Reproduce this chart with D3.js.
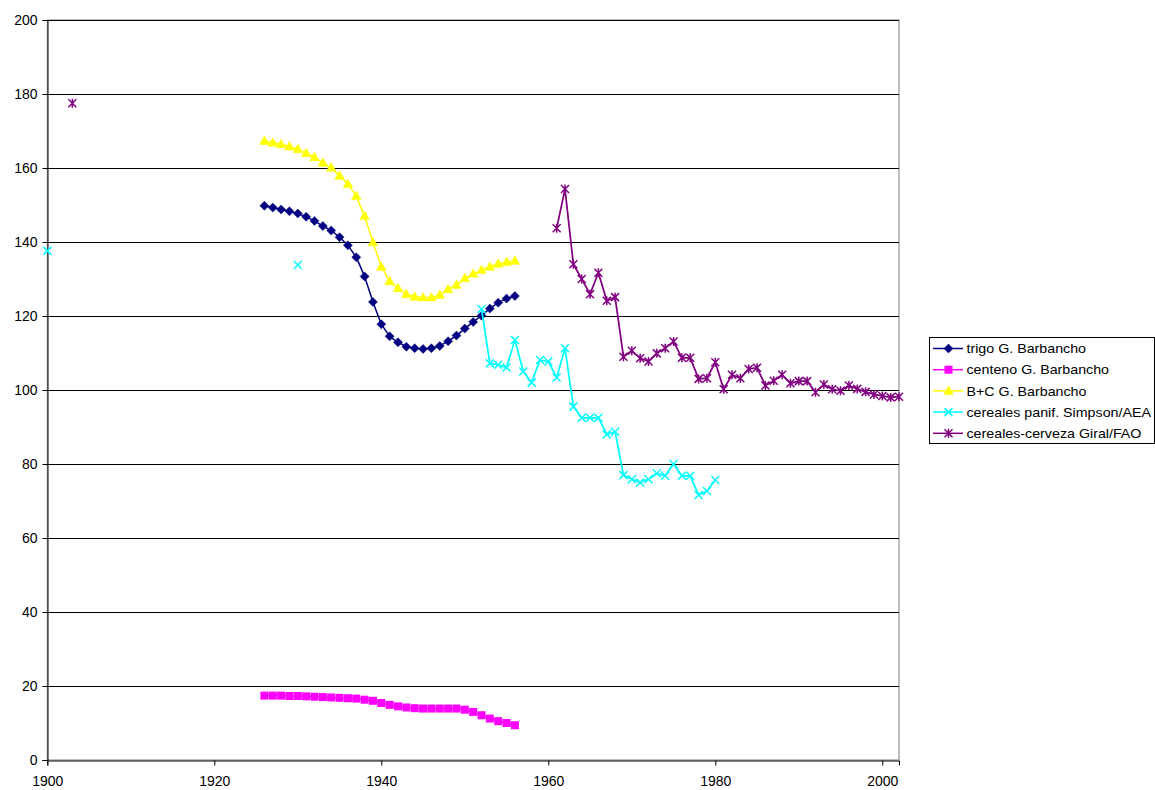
<!DOCTYPE html>
<html>
<head>
<meta charset="utf-8">
<script src="https://cdn.jsdelivr.net/npm/d3@7"></script>
<style>
  html, body { margin: 0; padding: 0; background: #fff; }
  svg { display: block; font-family: "Liberation Sans", Arial, sans-serif; }
</style>
</head>
<body>
<svg id="chart" width="1155" height="790"></svg>
<script>
// ---------------- DATA ----------------
const barbYears = [1926,1927,1928,1929,1930,1931,1932,1933,1934,1935,1936,1937,1938,1939,1940,1941,1942,1943,1944,1945,1946,1947,1948,1949,1950,1951,1952,1953,1954,1955,1956];
const trigo   = [149.8,149.3,148.8,148.3,147.7,146.8,145.7,144.3,143.1,141.3,139.1,135.9,130.7,123.8,117.8,114.5,112.9,111.7,111.3,111.1,111.3,111.9,113.2,114.7,116.6,118.4,120.1,122.0,123.6,124.7,125.4];
const centeno = [17.4,17.4,17.4,17.3,17.3,17.2,17.1,17.0,16.9,16.8,16.7,16.6,16.3,16.0,15.4,14.9,14.5,14.2,14.0,13.9,13.9,13.9,13.9,13.9,13.6,13.0,12.1,11.2,10.5,10.0,9.4];
const bc      = [167.3,166.8,166.4,165.8,165.1,164.0,162.9,161.4,160.1,157.9,155.7,152.4,147.0,139.9,133.3,129.4,127.5,125.9,125.2,125.0,125.0,125.7,127.2,128.4,130.2,131.4,132.4,133.3,134.1,134.6,134.9];

// null = gap in the series (line breaks there)
const simpsonYears  = [1900,1901,1930,1931,1952,1953,1954,1955,1956,1957,1958,1959,1960,1961,1962,1963,1964,1965,1966,1967,1968,1969,1970,1971,1972,1973,1974,1975,1976,1977,1978,1979,1980];
const simpsonValues = [137.6,null,133.8,null,121.9,107.2,106.8,106.1,113.5,105.0,102.0,108.1,107.7,103.4,111.3,95.5,92.5,92.5,92.5,88.0,88.7,77.0,75.9,75.0,75.9,77.5,76.8,80.0,76.8,76.8,71.6,72.7,75.7];

const giralYears  = [1903,1904,1961,1962,1963,1964,1965,1966,1967,1968,1969,1970,1971,1972,1973,1974,1975,1976,1977,1978,1979,1980,1981,1982,1983,1984,1985,1986,1987,1988,1989,1990,1991,1992,1993,1994,1995,1996,1997,1998,1999,2000,2001,2002];
const giralValues = [177.5,null,143.7,154.3,134.0,130.0,125.9,131.7,124.1,125.1,109.0,110.6,108.6,107.7,109.9,111.3,113.1,108.7,108.7,103.0,103.2,107.5,100.2,104.1,103.2,105.7,106.0,101.2,102.5,104.1,101.8,102.4,102.4,99.4,101.5,100.2,99.8,101.2,100.3,99.5,98.8,98.4,98.0,98.2];

const seriesNames = ["trigo G. Barbancho","centeno G. Barbancho","B+C G. Barbancho","cereales panif. Simpson/AEA","cereales-cerveza Giral/FAO"];
const yTicks = [0,20,40,60,80,100,120,140,160,180,200];
const xTicks = [1900,1920,1940,1960,1980,2000];

// ---------------- CHART ----------------
const svg = d3.select("#chart");
const pLeft = 47.3, pRight = 899, pTop = 20, pBottom = 760;
const x = d3.scaleLinear().domain([1900, 2002]).range([pLeft, pRight]);
const y = d3.scaleLinear().domain([0, 200]).range([pBottom, pTop]);

// plot border (grey)
svg.append("rect").attr("x", pLeft).attr("y", pTop).attr("width", pRight - pLeft).attr("height", pBottom - pTop)
  .attr("fill", "none").attr("stroke", "#808080").attr("stroke-width", 1);

// gridlines
svg.append("g").selectAll("line").data(yTicks.filter(d => d > 0)).join("line")
  .attr("x1", pLeft).attr("x2", pRight).attr("y1", d => Math.round(y(d)) + 0.5).attr("y2", d => Math.round(y(d)) + 0.5)
  .attr("stroke", "#000").attr("stroke-width", 1);

// axes
const yAxis = svg.append("g").attr("transform", `translate(${Math.round(pLeft) + 0.5},0)`)
  .call(d3.axisLeft(y).tickValues(yTicks).tickSize(5).tickPadding(5).tickFormat(d3.format("d")));
const xAxis = svg.append("g").attr("transform", `translate(0,${pBottom + 0.5})`)
  .call(d3.axisBottom(x).tickValues(xTicks).tickSize(5).tickPadding(11).tickFormat(d3.format("d")));
[yAxis, xAxis].forEach(g => {
  g.select(".domain").attr("stroke", "#000");
  g.selectAll(".tick line").attr("stroke", "#000");
  g.selectAll("text").attr("font-size", 14).attr("fill", "#000").attr("font-family", "'Liberation Sans', Arial, sans-serif");
});

// marker symbols
function drawMarker(g, type, color) {
  if (type === "diamond") {
    g.append("path").attr("d", "M0,-4.5L4.5,0L0,4.5L-4.5,0Z").attr("fill", color).attr("stroke", color).attr("stroke-width", 0.5);
  } else if (type === "square") {
    g.append("rect").attr("x", -4).attr("y", -4).attr("width", 8).attr("height", 8).attr("fill", color);
  } else if (type === "triangle") {
    g.append("path").attr("d", "M0,-5L4.8,3.5L-4.8,3.5Z").attr("fill", color).attr("stroke", color).attr("stroke-width", 0.5);
  } else if (type === "x") {
    g.append("path").attr("d", "M-4,-4L4,4M-4,4L4,-4").attr("stroke", color).attr("stroke-width", 1.5).attr("fill", "none");
  } else if (type === "star") {
    g.append("path").attr("d", "M-4,-4L4,4M-4,4L4,-4M0,-4.5L0,4.5").attr("stroke", color).attr("stroke-width", 1.5).attr("fill", "none");
  }
}

const series = [
  { name: seriesNames[0], years: barbYears, values: trigo, color: "#000080", marker: "diamond", lw: 1.5 },
  { name: seriesNames[1], years: barbYears, values: centeno, color: "#FF00FF", marker: "square", lw: 1.5 },
  { name: seriesNames[2], years: barbYears, values: bc, color: "#FFFF00", marker: "triangle", lw: 1.5 },
  { name: seriesNames[3], years: simpsonYears, values: simpsonValues, color: "#00FFFF", marker: "x", lw: 1.75 },
  { name: seriesNames[4], years: giralYears, values: giralValues, color: "#800080", marker: "star", lw: 1.75 }
];

const lineGen = d3.line().defined(d => d.v !== null).x(d => x(d.yr)).y(d => y(d.v));

series.forEach(s => {
  const pts = s.years.map((yr, i) => ({ yr, v: s.values[i] }));
  svg.append("path").datum(pts).attr("d", lineGen)
    .attr("fill", "none").attr("stroke", s.color).attr("stroke-width", s.lw).attr("stroke-linejoin", "round");
  const mg = svg.append("g");
  pts.filter(d => d.v !== null).forEach(d => {
    const g = mg.append("g").attr("transform", `translate(${x(d.yr)},${y(d.v)})`);
    drawMarker(g, s.marker, s.color);
  });
});

// legend
const lg = svg.append("g");
lg.append("rect").attr("x", 929.5).attr("y", 337.5).attr("width", 225).attr("height", 106)
  .attr("fill", "#fff").attr("stroke", "#000").attr("stroke-width", 1);
series.forEach((s, i) => {
  const cy = 348.5 + i * 21.2;
  lg.append("line").attr("x1", 933).attr("x2", 963).attr("y1", cy).attr("y2", cy)
    .attr("stroke", s.color).attr("stroke-width", 1.5);
  const g = lg.append("g").attr("transform", `translate(948.5,${cy})`);
  drawMarker(g, s.marker, s.color);
  const t = lg.append("text").attr("x", 966.5).attr("y", cy).attr("dy", "0.36em")
    .attr("font-size", 13.2).attr("fill", "#000").text(s.name);
  const w = t.node().getComputedTextLength();
  t.attr("textLength", w * 1.08).attr("lengthAdjust", "spacingAndGlyphs");
});
</script>
</body>
</html>
